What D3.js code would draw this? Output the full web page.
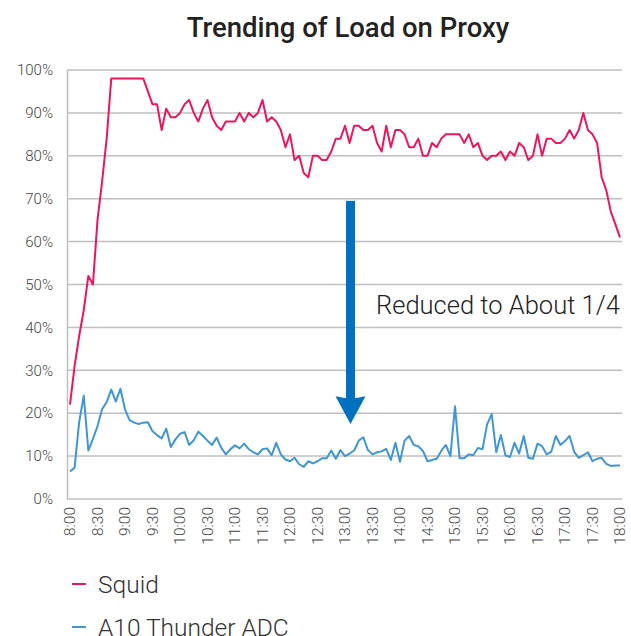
<!DOCTYPE html>
<html>
<head>
<meta charset="utf-8">
<script src="https://cdn.jsdelivr.net/npm/d3@7"></script>
<style>
  body { margin: 0; background: #fff; }
  svg { display: block; }
</style>
</head>
<body>
<svg id="chart"></svg>
<script>
// sample every 5 minutes from 8:00 to 18:00
const minutes = d3.range(0, 605, 5);
const tickLabels = ["8:00", "8:30", "9:00", "9:30", "10:00", "10:30", "11:00", "11:30", "12:00", "12:30",
  "13:00", "13:30", "14:00", "14:30", "15:00", "15:30", "16:00", "16:30", "17:00", "17:30", "18:00"];
const yTicks = [0, 10, 20, 30, 40, 50, 60, 70, 80, 90, 100];

// % load
const squid = [22, 31, 38, 44, 52, 50, 65, 74, 84, 98,
  98, 98, 98, 98, 98, 98, 98, 95, 92, 92,
  86, 91, 89, 89, 90, 92, 93, 90, 88, 91,
  93, 89, 87, 86, 88, 88, 88, 90, 88, 90,
  89, 90, 93, 88, 89, 88, 86, 82, 85, 79,
  80, 76, 75, 80, 80, 79, 79, 81, 84, 84,
  87, 83, 87, 87, 86, 86, 87, 83, 81, 87,
  82, 86, 86, 85, 82, 82, 84, 80, 80, 83,
  82, 84, 85, 85, 85, 85, 83, 85, 82, 83,
  80, 79, 80, 80, 81, 79, 81, 80, 83, 82,
  79, 80, 85, 80, 84, 84, 83, 83, 84, 86,
  84, 86, 90, 86, 85, 83, 75, 72, 67, 64,
  61];
const a10 = [6.4, 7.3, 17.9, 24.1, 11.3, 14.0, 17.0, 20.9, 22.6, 25.5,
  22.7, 25.7, 20.9, 18.4, 17.8, 17.5, 17.8, 17.9, 15.8, 14.9,
  14.1, 16.4, 12.1, 13.9, 15.2, 15.6, 12.6, 13.7, 15.7, 14.7,
  13.6, 12.6, 14.3, 11.9, 10.4, 11.6, 12.5, 11.8, 12.9, 11.6,
  10.9, 10.4, 11.6, 11.8, 10.2, 13.1, 10.4, 9.2, 8.8, 9.6,
  8.1, 7.5, 8.8, 8.3, 8.8, 9.5, 9.5, 11.3, 9.4, 11.4,
  10.0, 10.6, 11.3, 13.6, 14.4, 11.4, 10.4, 10.9, 11.1, 11.7,
  9.1, 13.1, 8.7, 13.6, 14.7, 12.6, 12.3, 11.2, 8.8, 9.1,
  9.4, 11.2, 12.6, 10.0, 21.6, 9.5, 9.5, 10.4, 10.2, 11.9,
  11.6, 17.4, 19.8, 10.9, 14.9, 10.2, 9.8, 13.1, 10.6, 14.7,
  9.6, 9.4, 12.9, 12.3, 10.4, 11.0, 14.7, 12.6, 13.5, 14.7,
  11.0, 9.6, 10.2, 10.9, 8.8, 9.4, 9.6, 8.2, 7.7, 7.8,
  7.8];

const seriesNames = ["Squid", "A10 Thunder ADC"];
const colors = ["#E8185A", "#3F96D2"];
const arrowColor = "#0070C0";
const fontFamily = "Roboto, 'Noto Sans', sans-serif";

const width = 631, height = 636;
const svg = d3.select("#chart").attr("width", width).attr("height", height);

const x = d3.scaleLinear().domain([0, 600]).range([70, 620]);
const y = d3.scaleLinear().domain([0, 100]).range([499, 70]);

// title
svg.append("text")
  .attr("x", 348).attr("y", 37)
  .attr("text-anchor", "middle")
  .attr("font-family", fontFamily)
  .attr("font-weight", 500)
  .attr("font-size", 27.5)
  .attr("fill", "#222")
  .text("Trending of Load on Proxy");

// grid
svg.append("g").selectAll("line")
  .data(yTicks)
  .enter().append("line")
  .attr("x1", 67).attr("x2", 622)
  .attr("y1", d => y(d)).attr("y2", d => y(d))
  .attr("stroke", "#bfbfbf")
  .attr("stroke-width", 1.5);

svg.append("line")
  .attr("x1", 67.5).attr("x2", 67.5)
  .attr("y1", y(100)).attr("y2", y(0))
  .attr("stroke", "#bfbfbf")
  .attr("stroke-width", 1.5);

// y labels
svg.append("g").selectAll("text")
  .data(yTicks)
  .enter().append("text")
  .attr("x", 53).attr("y", d => y(d))
  .attr("dy", "0.35em")
  .attr("text-anchor", "end")
  .attr("font-family", fontFamily)
  .attr("font-weight", 300)
  .attr("font-size", 15)
  .attr("fill", "#444")
  .text(d => d + "%");

// x labels (rotated)
svg.append("g").selectAll("text")
  .data(tickLabels)
  .enter().append("text")
  .attr("transform", (d, i) => `translate(${x(i * 30)}, 507) rotate(-90)`)
  .attr("dy", "0.35em")
  .attr("text-anchor", "end")
  .attr("font-family", fontFamily)
  .attr("font-weight", 300)
  .attr("font-size", 15.5)
  .attr("fill", "#444")
  .text(d => d);

// lines
const line = d3.line()
  .x((d, i) => x(minutes[i]))
  .y(d => y(d));

[squid, a10].forEach((s, k) => {
  svg.append("path")
    .datum(s)
    .attr("d", line)
    .attr("fill", "none")
    .attr("stroke", colors[k])
    .attr("stroke-width", 2)
    .attr("stroke-linejoin", "round");
});

// arrow annotation
const ax = x(306), aTop = y(69.5), aBase = y(23.5), aTip = y(17.5);
svg.append("rect")
  .attr("x", ax - 4.5).attr("y", aTop)
  .attr("width", 9).attr("height", aBase - aTop + 1)
  .attr("fill", arrowColor);
svg.append("path")
  .attr("d", `M${ax - 15},${aBase - 2} Q${ax},${aBase + 2} ${ax + 15},${aBase - 2} L${ax},${aTip} Z`)
  .attr("fill", arrowColor);

svg.append("text")
  .attr("x", 620).attr("y", 314)
  .attr("text-anchor", "end")
  .attr("font-family", fontFamily)
  .attr("font-weight", 300)
  .attr("font-size", 25.5)
  .attr("fill", "#222")
  .text("Reduced to About 1/4");

// legend
const legend = svg.append("g").selectAll("g")
  .data(seriesNames)
  .enter().append("g")
  .attr("transform", (d, i) => `translate(72, ${584 + i * 43})`);
legend.append("line")
  .attr("x1", 0).attr("x2", 14)
  .attr("stroke", (d, i) => colors[i])
  .attr("stroke-width", 2);
legend.append("text")
  .attr("x", 26)
  .attr("dy", "0.35em")
  .attr("font-family", fontFamily)
  .attr("font-weight", 300)
  .attr("font-size", 24.5)
  .attr("fill", "#333")
  .text(d => d);
</script>
</body>
</html>
